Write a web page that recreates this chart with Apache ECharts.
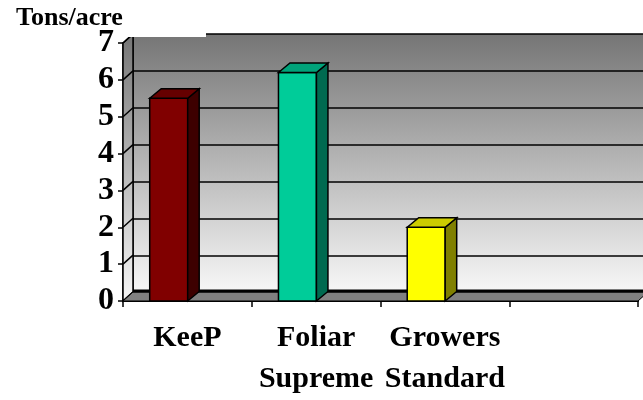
<!DOCTYPE html>
<html lang="en">
<head>
<meta charset="UTF-8">
<title>Tons/acre</title>
<style>
*{padding:0;margin:0;}
body{background:#fff;}
</style>
<script src="https://cdn.jsdelivr.net/npm/echarts@6/dist/echarts.min.js"></script>
</head>
<body>
<div id="main" style="width:643px;height:400px;"></div>
<script>
var categories = ['KeeP', 'Foliar\nSupreme', 'Growers\nStandard', ''];
var yields = [5.5, 6.2, 2.0];
var frontColors = ['#800000', '#00cc99', '#ffff00'];
var topColors = ['#660000', '#00a37a', '#cccc00'];
var sideColors = ['#3d0000', '#006a50', '#808000'];
var yTicks = [0, 1, 2, 3, 4, 5, 6, 7];

var DX = 10, DY = -9;      // wall depth
var BDX = 11.5, BDY = -9.5; // bar depth
var font = 'Liberation Serif';

function wallFill() {
    return {
        type: 'linear', x: 0, y: 0, x2: 0, y2: 1,
        colorStops: [{offset: 0, color: '#757575'}, {offset: 1, color: '#f8f8f8'}]
    };
}

// side wall, floor and the little diagonals at each tick
function renderFrame(params, api) {
    var bw = api.size([1, 0])[0];
    var x0 = api.coord([0, 0])[0] - bw / 2;
    var x1 = api.coord([categories.length - 1, 0])[0] + bw / 2;
    var y0 = api.coord([0, 0])[1];
    var yTop = api.coord([0, yTicks[yTicks.length - 1]])[1];
    var kids = [];
    kids.push({
        type: 'polygon',
        shape: {points: [[x0, yTop], [x0 + DX, yTop + DY], [x0 + DX, y0 + DY], [x0, y0]]},
        style: {fill: wallFill(), stroke: '#000', lineWidth: 1.5}
    });
    for (var k = 0; k < yTicks.length; k++) {
        var y = api.coord([0, yTicks[k]])[1];
        kids.push({
            type: 'line',
            shape: {x1: x0, y1: y, x2: x0 + DX, y2: y + DY},
            style: {stroke: '#000', lineWidth: 1.5}
        });
    }
    kids.push({
        type: 'polygon',
        shape: {points: [[x0, y0], [x1, y0], [x1 + DX, y0 + DY], [x0 + DX, y0 + DY]]},
        style: {fill: '#808080', stroke: '#000', lineWidth: 1}
    });
    kids.push({
        type: 'line',
        shape: {x1: x0 + DX, y1: y0 + DY - 1, x2: x1 + DX, y2: y0 + DY - 1},
        style: {stroke: '#000', lineWidth: 3}
    });
    return {type: 'group', children: kids};
}

function renderBar(params, api) {
    var i = api.value(0), v = api.value(1);
    var bw = api.size([1, 0])[0];
    var top = api.coord([i, v]);
    var base = api.coord([i, 0]);
    var w = bw * 0.295;
    var l = top[0] - bw * 0.145 - w / 2;
    var r = l + w;
    var t = top[1], b = base[1];
    var c = params.dataIndex;
    var st = {stroke: '#000', lineWidth: 1.5, lineJoin: 'miter'};
    return {
        type: 'group',
        children: [
            {type: 'polygon', shape: {points: [[l, t], [r, t], [r, b], [l, b]]},
                style: Object.assign({fill: frontColors[c]}, st)},
            {type: 'polygon', shape: {points: [[r, t], [r + BDX, t + BDY], [r + BDX, b + BDY], [r, b]]},
                style: Object.assign({fill: sideColors[c]}, st)},
            {type: 'polygon', shape: {points: [[l, t], [l + BDX, t + BDY], [r + BDX, t + BDY], [r, t]]},
                style: Object.assign({fill: topColors[c]}, st)}
        ]
    };
}

var myChart = echarts.init(document.getElementById('main'));
var option = {
    animation: false,
    backgroundColor: '#fff',
    title: {
        text: 'Tons/acre',
        left: 11,
        top: 0,
        textStyle: {fontFamily: font, fontWeight: 'bold', fontSize: 26, color: '#000'}
    },
    graphic: [{
        type: 'rect', left: 120, top: 28, z: 100,
        shape: {width: 86, height: 9},
        style: {fill: '#fff'}
    }],
    grid: [
        {left: 123, top: 43, width: 515, height: 259},
        {left: 133, top: 34, width: 515, height: 259, show: true,
            backgroundColor: wallFill(), borderWidth: 0}
    ],
    xAxis: [
        {
            type: 'category', gridIndex: 0, data: categories, boundaryGap: true,
            axisLine: {show: true, lineStyle: {color: '#000', width: 2}},
            axisTick: {show: true, interval: 0, length: 6, lineStyle: {color: '#000', width: 1.5}},
            axisLabel: {
                interval: 0, margin: 17, color: '#000',
                fontFamily: font, fontWeight: 'bold', fontSize: 30, lineHeight: 41
            },
            splitLine: {show: false}
        },
        {type: 'category', gridIndex: 1, data: categories, show: false}
    ],
    yAxis: [
        {
            type: 'value', gridIndex: 0, min: 0, max: 7, interval: 1,
            axisLine: {show: true, lineStyle: {color: '#000', width: 1.5}},
            axisTick: {show: true, length: 5, lineStyle: {color: '#000', width: 1.5}},
            axisLabel: {margin: 9, color: '#000', fontFamily: font, fontWeight: 'bold', fontSize: 32},
            splitLine: {show: false}
        },
        {
            type: 'value', gridIndex: 1, min: 0, max: 7, interval: 1,
            axisLine: {show: true, lineStyle: {color: '#000', width: 1.5}},
            axisTick: {show: false},
            axisLabel: {show: false},
            splitLine: {show: true, lineStyle: {color: '#000', width: 1.5}}
        }
    ],
    series: [
        {
            type: 'custom', name: 'frame', xAxisIndex: 0, yAxisIndex: 0,
            data: [[0, 0]], renderItem: renderFrame, clip: false, z: 1, silent: true
        },
        {
            type: 'custom', name: 'Tons/acre', xAxisIndex: 0, yAxisIndex: 0,
            data: yields.map(function (v, i) { return [i, v]; }),
            encode: {x: 0, y: 1},
            renderItem: renderBar, clip: false, z: 5
        }
    ]
};
myChart.setOption(option);
</script>
</body>
</html>
